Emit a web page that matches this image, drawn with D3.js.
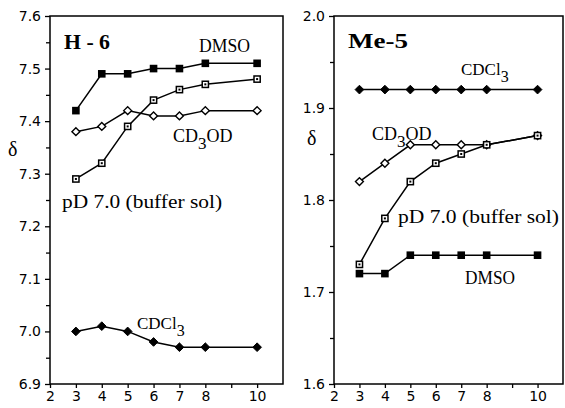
<!DOCTYPE html>
<html><head><meta charset="utf-8">
<script src="https://cdn.jsdelivr.net/npm/d3@7"></script>
<style>body{margin:0;background:#fff}svg{display:block}</style>
</head><body>
<svg id="c" width="565" height="408"></svg>
<script>
const xValues = [3, 4, 5, 6, 7, 8, 10];
const xTickLabels = [2, 3, 4, 5, 6, 7, 8, 10];
const xMinorTicks = [9];

// H-6 panel
const h6Ticks = [6.9, 7.0, 7.1, 7.2, 7.3, 7.4, 7.5, 7.6];
const h6DMSO  = [7.42, 7.49, 7.49, 7.50, 7.50, 7.51, 7.51];
const h6Buffer = [7.29, 7.32, 7.39, 7.44, 7.46, 7.47, 7.48];
const h6CD3OD = [7.38, 7.39, 7.42, 7.41, 7.41, 7.42, 7.42];
const h6CDCl3 = [7.00, 7.01, 7.00, 6.98, 6.97, 6.97, 6.97];

// Me-5 panel
const me5Ticks = [1.6, 1.7, 1.8, 1.9, 2.0];
const me5CDCl3 = [1.92, 1.92, 1.92, 1.92, 1.92, 1.92, 1.92];
const me5CD3OD = [1.82, 1.84, 1.86, 1.86, 1.86, 1.86, 1.87];
const me5Buffer = [1.73, 1.78, 1.82, 1.84, 1.85, 1.86, 1.87];
const me5DMSO  = [1.72, 1.72, 1.74, 1.74, 1.74, 1.74, 1.74];

const svg = d3.select("#c");
const serif = "'Liberation Serif','Times New Roman',serif";
const sans = "'DejaVu Sans',Verdana,sans-serif";

function marker(g, type, x, y) {
  const s = 3.8;
  if (type === "fsq") {
    g.append("rect").attr("x", x - s).attr("y", y - s).attr("width", 2*s).attr("height", 2*s).attr("fill", "#000");
  } else if (type === "osq") {
    g.append("rect").attr("x", x - s + 0.7).attr("y", y - s + 0.7).attr("width", 2*s - 1.4).attr("height", 2*s - 1.4)
      .attr("fill", "#fff").attr("stroke", "#000").attr("stroke-width", 1.5);
    g.append("rect").attr("x", x - 1).attr("y", y - 1).attr("width", 2).attr("height", 2).attr("fill", "#000");
  } else if (type === "odia") {
    g.append("path").attr("d", d3.symbol(d3.symbolDiamond2, 40)()).attr("transform", `translate(${x},${y})`)
      .attr("fill", "#fff").attr("stroke", "#000").attr("stroke-width", 1.4);
  } else {
    g.append("path").attr("d", d3.symbol(d3.symbolDiamond2, 48)()).attr("transform", `translate(${x},${y})`)
      .attr("fill", "#000").attr("stroke", "#000").attr("stroke-width", 1);
  }
}

function panel(opt) {
  const x = d3.scaleLinear().domain([2, 11]).range([opt.left, opt.right]);
  const y = d3.scaleLinear().domain(opt.yDomain).range([opt.bottom, opt.top]);
  const g = svg.append("g");
  g.append("rect").attr("x", opt.left).attr("y", opt.top).attr("width", opt.right - opt.left).attr("height", opt.bottom - opt.top)
    .attr("fill", "none").attr("stroke", "#000").attr("stroke-width", 1.5);
  const minor = [];
  for (let i = 0; i < opt.yTicks.length - 1; i++) minor.push((opt.yTicks[i] + opt.yTicks[i+1]) / 2);
  const ya = g.append("g").attr("transform", `translate(${opt.left},0)`)
    .call(d3.axisLeft(y).tickValues(opt.yTicks).tickFormat(d3.format(".1f")).tickSize(5).tickPadding(4));
  const ym = g.append("g").attr("transform", `translate(${opt.left},0)`)
    .call(d3.axisLeft(y).tickValues(minor).tickFormat("").tickSize(4));
  const xa = g.append("g").attr("transform", `translate(0,${opt.bottom})`)
    .call(d3.axisBottom(x).tickValues(xTickLabels).tickFormat(d3.format("d")).tickSize(4).tickPadding(3));
  const xm = g.append("g").attr("transform", `translate(0,${opt.bottom})`)
    .call(d3.axisBottom(x).tickValues(xMinorTicks).tickFormat("").tickSize(4));
  [ya, ym, xa, xm].forEach(a => {
    a.select(".domain").remove();
    a.selectAll("line").attr("stroke", "#000").attr("stroke-width", 1.3);
    a.selectAll("text").attr("fill", "#000").style("font-family", sans).style("font-size", "14px");
  });
  const line = d3.line().x((d, i) => x(xValues[i])).y(d => y(d));
  opt.series.forEach(s => {
    g.append("path").attr("d", line(s.values)).attr("fill", "none").attr("stroke", "#000").attr("stroke-width", 1.5);
  });
  opt.series.forEach(s => {
    s.values.forEach((v, i) => marker(g, s.marker, x(xValues[i]), y(v)));
  });
  opt.labels.forEach(l => {
    const size = l.size || 18;
    const t = g.append("text").attr("x", l.x).attr("y", l.y).style("font-family", serif)
      .style("font-size", size + "px").style("font-weight", l.bold ? "bold" : "normal").attr("fill", "#000");
    if (l.sub) {
      t.append("tspan").text(l.pre);
      t.append("tspan").attr("dy", 7).style("font-size", (size - 1) + "px").text(l.sub);
      if (l.post) t.append("tspan").attr("dy", -7).text(l.post);
    } else {
      t.text(l.text);
      if (l.len) t.attr("textLength", l.len).attr("lengthAdjust", "spacingAndGlyphs");
    }
  });
}

panel({
  left: 50, right: 283, top: 16, bottom: 384,
  yDomain: [6.9, 7.6], yTicks: h6Ticks,
  series: [
    { values: h6DMSO, marker: "fsq" },
    { values: h6Buffer, marker: "osq" },
    { values: h6CD3OD, marker: "odia" },
    { values: h6CDCl3, marker: "fdia" }
  ],
  labels: [
    { text: "H - 6", x: 64, y: 49, size: 21, bold: true, len: 46 },
    { text: "DMSO", x: 199, y: 52, size: 18, len: 51 },
    { pre: "CD", sub: "3", post: "OD", x: 173, y: 142, size: 18 },
    { text: "pD 7.0 (buffer sol)", x: 62, y: 208, size: 18, len: 160 },
    { pre: "CDCl", sub: "3", x: 137, y: 329, size: 17 },
    { text: "δ", x: 8, y: 156, size: 20 }
  ]
});

panel({
  left: 334, right: 563, top: 16, bottom: 384,
  yDomain: [1.6, 2.0], yTicks: me5Ticks,
  series: [
    { values: me5CDCl3, marker: "fdia" },
    { values: me5CD3OD, marker: "odia" },
    { values: me5Buffer, marker: "osq" },
    { values: me5DMSO, marker: "fsq" }
  ],
  labels: [
    { text: "Me-5", x: 348, y: 48, size: 21, bold: true, len: 60 },
    { pre: "CDCl", sub: "3", x: 461, y: 75, size: 17 },
    { pre: "CD", sub: "3", post: "OD", x: 372, y: 140, size: 18 },
    { text: "pD 7.0 (buffer sol)", x: 398, y: 223, size: 18, len: 161 },
    { text: "DMSO", x: 465, y: 284, size: 18, len: 50 },
    { text: "δ", x: 307, y: 145, size: 20 }
  ]
});
</script>
</body></html>
